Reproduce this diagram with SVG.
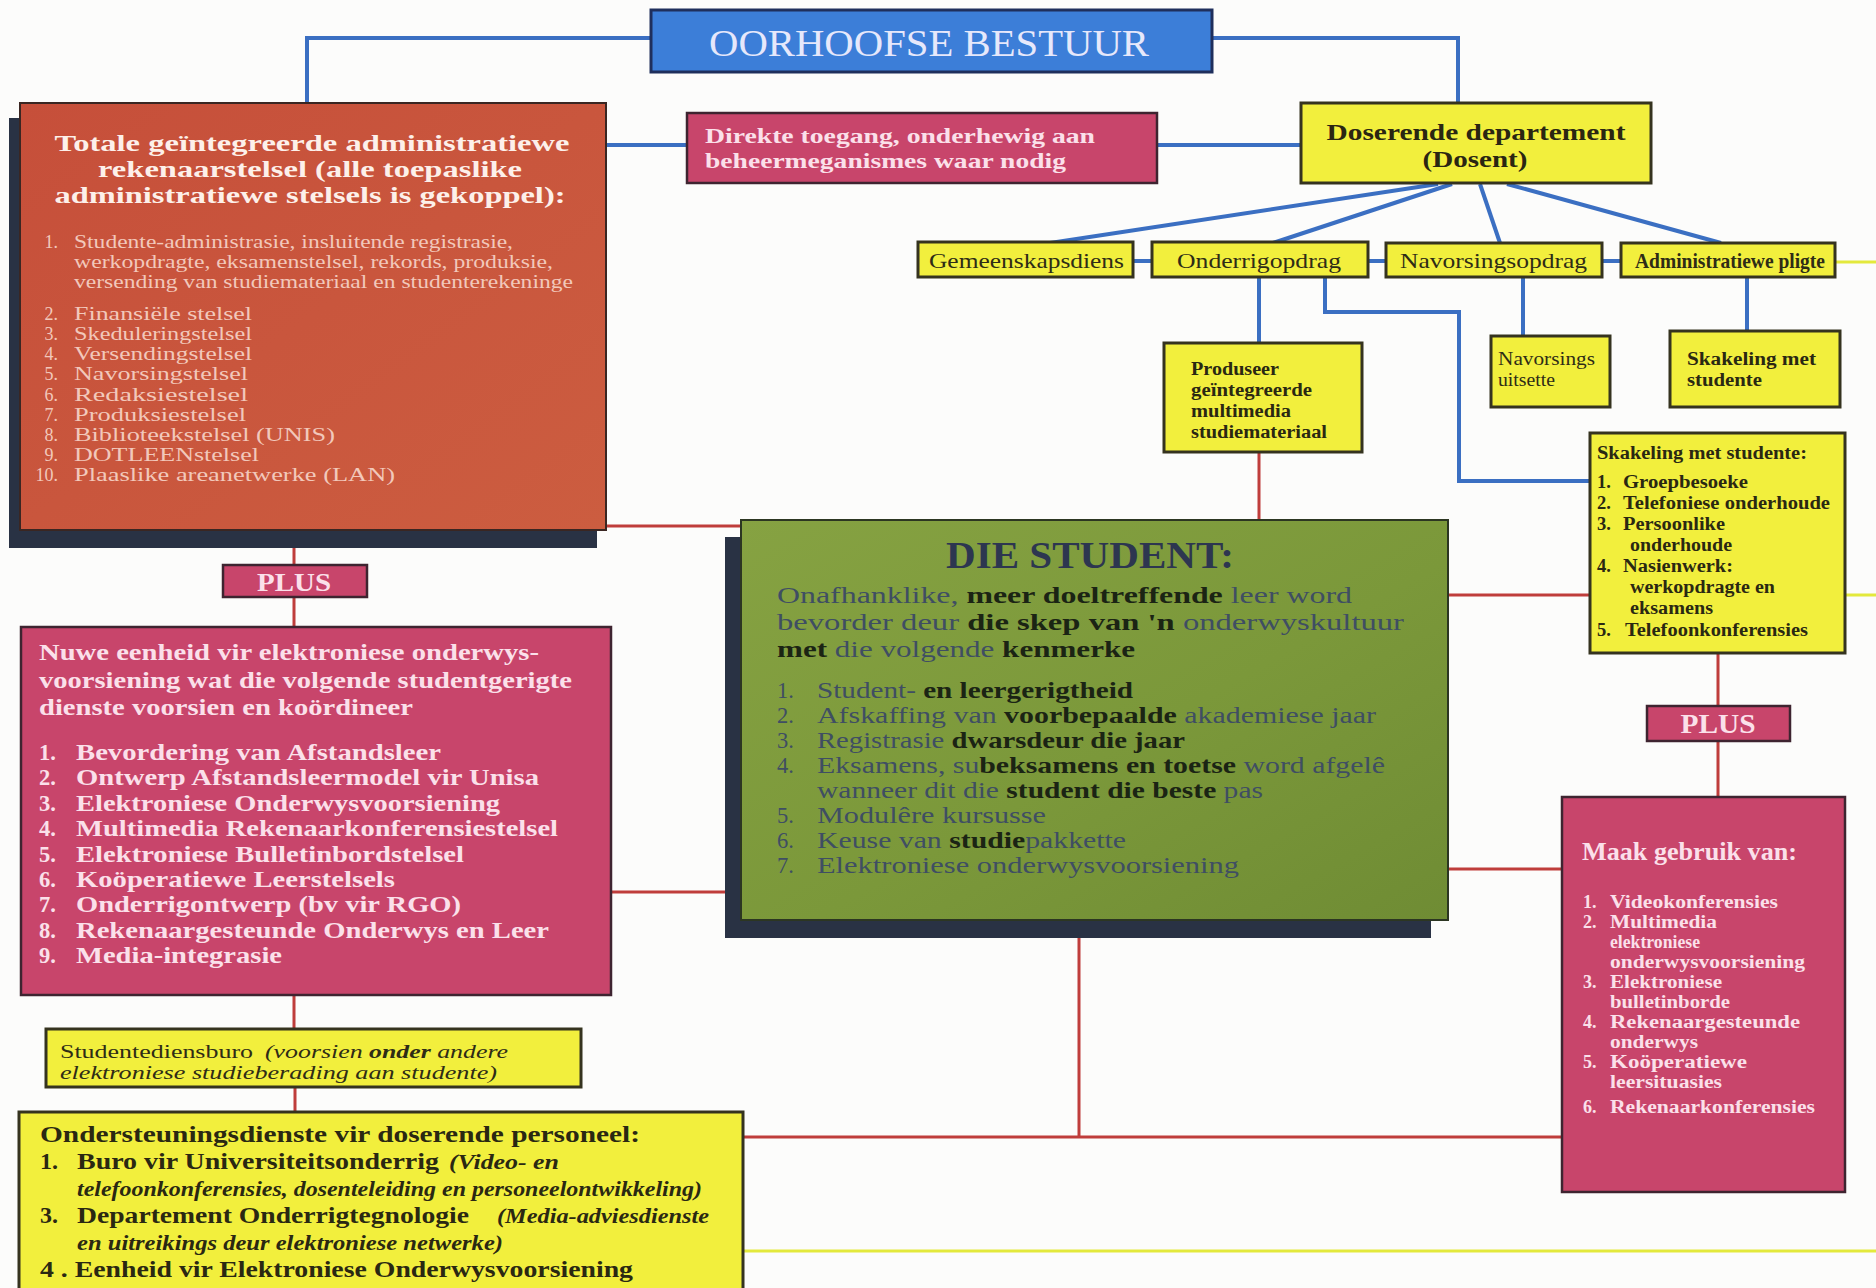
<svg xmlns="http://www.w3.org/2000/svg" width="1876" height="1288" viewBox="0 0 1876 1288">
  <defs>
    <linearGradient id="greenFill" x1="0" y1="0" x2="1" y2="1">
      <stop offset="0" stop-color="#86a242"/>
      <stop offset="0.55" stop-color="#7b983a"/>
      <stop offset="1" stop-color="#6f8c34"/>
    </linearGradient>
    <linearGradient id="rustFill" x1="0" y1="0" x2="1" y2="1">
      <stop offset="0" stop-color="#c64f3a"/>
      <stop offset="1" stop-color="#cc5d40"/>
    </linearGradient>
  </defs>
  <style>
    text { font-family: "Liberation Serif", "Times New Roman", serif; }
    .blue { stroke: #3b6fc2; stroke-width: 4; fill: none; }
    .red { stroke: #bf3d3b; stroke-width: 3; fill: none; }
    .yel { stroke: #e3e93c; stroke-width: 3; fill: none; }
    .ybox { fill: #f2ef3d; stroke: #35331f; stroke-width: 3; }
    .pbox { fill: #c8456b; stroke: #3e2430; stroke-width: 2.5; }
    .shadow { fill: #293244; }
    .ytxt { fill: #2e2c16; font-size: 22px; }
    .ybold { fill: #2a2812; font-size: 18.5px; font-weight: bold; }
    .pink { fill: #fbe0ea; font-weight: bold; }
    .rust-t { fill: #fdf0ea; font-size: 23.5px; font-weight: bold; }
    .rust-i { fill: #f2c8bb; font-size: 18px; }
    .st-l { fill: #3f4e63; }
    .st-d { fill: #1b2414; font-weight: bold; }
    .st-p { font-size: 24px; }
    .st { font-size: 22.5px; }
    .sup { fill: #2a2812; font-size: 24px; font-weight: bold; }
    .supi { fill: #2a2812; font-size: 22px; font-style: italic; font-weight: bold; }
  </style>

  <rect width="1876" height="1288" fill="#fcfcfb"/>

  <!-- connectors -->
  <g id="connectors">
    <!-- management tree (blue) -->
    <path class="blue" d="M307,103 V38 H652"/>
    <path class="blue" d="M1212,38 H1458 V103"/>
    <path class="blue" d="M606,145 H687"/>
    <path class="blue" d="M1157,145 H1301"/>
    <path class="blue" d="M1438,184 L1050,243"/>
    <path class="blue" d="M1452,184 L1273,243"/>
    <path class="blue" d="M1480,184 L1500,243"/>
    <path class="blue" d="M1507,184 L1721,243"/>
    <path class="blue" d="M1133,261 H1152"/>
    <path class="blue" d="M1368,261 H1386"/>
    <path class="blue" d="M1602,261 H1621"/>
    <path class="blue" d="M1259,277 V343"/>
    <path class="blue" d="M1325,277 V312 H1459 V481 H1590"/>
    <path class="blue" d="M1523,277 V336"/>
    <path class="blue" d="M1747,277 V331"/>
    <!-- student links (red) -->
    <path class="red" d="M606,526 H741"/>
    <path class="red" d="M294,548 V565"/>
    <path class="red" d="M294,597 V627"/>
    <path class="red" d="M611,892 H741"/>
    <path class="red" d="M294,995 V1029"/>
    <path class="red" d="M295,1087 V1112"/>
    <path class="red" d="M1259,452 V520"/>
    <path class="red" d="M1448,595 H1590"/>
    <path class="red" d="M1718,653 V706"/>
    <path class="red" d="M1718,741 V797"/>
    <path class="red" d="M1448,869 H1562"/>
    <path class="red" d="M1079,938 V1137"/>
    <path class="red" d="M743,1137 H1562"/>
    <!-- outgoing (yellow) -->
    <path class="yel" d="M1835,262 H1876"/>
    <path class="yel" d="M1845,595 H1876"/>
    <path class="yel" d="M743,1251 H1876"/>
  </g>

  <!-- top management -->
  <g id="oorhoofse-bestuur">
    <rect x="651" y="10" width="561" height="62" fill="#3c7ed8" stroke="#1f2f5c" stroke-width="3"/>
    <text x="929" y="56" text-anchor="middle" font-size="38" fill="#e6e8fb" textLength="440" lengthAdjust="spacingAndGlyphs">OORHOOFSE BESTUUR</text>
  </g>

  <!-- integrated administrative computer system -->
  <g id="admin-stelsel">
    <rect class="shadow" x="9" y="118" width="588" height="430"/>
    <rect x="20" y="103" width="586" height="427" fill="url(#rustFill)" stroke="#3a2622" stroke-width="2"/>
    <text class="rust-t" x="312" y="151" text-anchor="middle" textLength="515" lengthAdjust="spacingAndGlyphs">Totale geïntegreerde administratiewe</text>
    <text class="rust-t" x="310" y="177" text-anchor="middle" textLength="424" lengthAdjust="spacingAndGlyphs">rekenaarstelsel (alle toepaslike</text>
    <text class="rust-t" x="310" y="203" text-anchor="middle" textLength="511" lengthAdjust="spacingAndGlyphs">administratiewe stelsels is gekoppel):</text>
    <g class="rust-i">
      <text x="58" y="248" text-anchor="end">1.</text>
      <text x="74" y="248" textLength="439" lengthAdjust="spacingAndGlyphs">Studente-administrasie, insluitende registrasie,</text>
      <text x="74" y="268" textLength="479" lengthAdjust="spacingAndGlyphs">werkopdragte, eksamenstelsel, rekords, produksie,</text>
      <text x="74" y="288" textLength="499" lengthAdjust="spacingAndGlyphs">versending van studiemateriaal en studenterekeninge</text>
      <text x="58" y="320" text-anchor="end">2.</text>
      <text x="74" y="320" textLength="178" lengthAdjust="spacingAndGlyphs">Finansiële stelsel</text>
      <text x="58" y="340" text-anchor="end">3.</text>
      <text x="74" y="340" textLength="178" lengthAdjust="spacingAndGlyphs">Skeduleringstelsel</text>
      <text x="58" y="360" text-anchor="end">4.</text>
      <text x="74" y="360" textLength="178" lengthAdjust="spacingAndGlyphs">Versendingstelsel</text>
      <text x="58" y="380" text-anchor="end">5.</text>
      <text x="74" y="380" textLength="174" lengthAdjust="spacingAndGlyphs">Navorsingstelsel</text>
      <text x="58" y="401" text-anchor="end">6.</text>
      <text x="74" y="401" textLength="174" lengthAdjust="spacingAndGlyphs">Redaksiestelsel</text>
      <text x="58" y="421" text-anchor="end">7.</text>
      <text x="74" y="421" textLength="172" lengthAdjust="spacingAndGlyphs">Produksiestelsel</text>
      <text x="58" y="441" text-anchor="end">8.</text>
      <text x="74" y="441" textLength="261" lengthAdjust="spacingAndGlyphs">Biblioteekstelsel (UNIS)</text>
      <text x="58" y="461" text-anchor="end">9.</text>
      <text x="74" y="461" textLength="185" lengthAdjust="spacingAndGlyphs">DOTLEENstelsel</text>
      <text x="58" y="481" text-anchor="end">10.</text>
      <text x="74" y="481" textLength="321" lengthAdjust="spacingAndGlyphs">Plaaslike areanetwerke (LAN)</text>
    </g>
  </g>

  <!-- direct access -->
  <g id="direkte-toegang">
    <rect class="pbox" x="687" y="113" width="470" height="70" fill="#c9446c"/>
    <text class="pink" x="705" y="143" font-size="22" textLength="390" lengthAdjust="spacingAndGlyphs">Direkte toegang, onderhewig aan</text>
    <text class="pink" x="705" y="168" font-size="22" textLength="361" lengthAdjust="spacingAndGlyphs">beheermeganismes waar nodig</text>
  </g>

  <!-- lecturing department -->
  <g id="doserende-departement">
    <rect class="ybox" x="1301" y="103" width="350" height="80"/>
    <text x="1476" y="140" text-anchor="middle" font-size="24" font-weight="bold" fill="#2a2612" textLength="299" lengthAdjust="spacingAndGlyphs">Doserende departement</text>
    <text x="1475" y="167" text-anchor="middle" font-size="24" font-weight="bold" fill="#2a2612" textLength="105" lengthAdjust="spacingAndGlyphs">(Dosent)</text>
  </g>

  <g id="gemeenskapsdiens">
    <rect class="ybox" x="918" y="242" width="215" height="35"/>
    <text class="ytxt" x="929" y="268" textLength="195" lengthAdjust="spacingAndGlyphs">Gemeenskapsdiens</text>
  </g>
  <g id="onderrigopdrag">
    <rect class="ybox" x="1152" y="242" width="216" height="35"/>
    <text class="ytxt" x="1177" y="268" textLength="164" lengthAdjust="spacingAndGlyphs">Onderrigopdrag</text>
  </g>
  <g id="navorsingsopdrag">
    <rect class="ybox" x="1386" y="243" width="216" height="34"/>
    <text class="ytxt" x="1400" y="268" textLength="187" lengthAdjust="spacingAndGlyphs">Navorsingsopdrag</text>
  </g>
  <g id="administratiewe-pligte">
    <rect class="ybox" x="1621" y="243" width="214" height="34"/>
    <text class="ytxt" x="1635" y="268" font-weight="bold" font-size="21" textLength="190" lengthAdjust="spacingAndGlyphs">Administratiewe pligte</text>
  </g>

  <g id="produseer">
    <rect class="ybox" x="1164" y="343" width="198" height="109"/>
    <text class="ybold" x="1191" y="375" textLength="88" lengthAdjust="spacingAndGlyphs">Produseer</text>
    <text class="ybold" x="1191" y="396" textLength="121" lengthAdjust="spacingAndGlyphs">geïntegreerde</text>
    <text class="ybold" x="1191" y="417" textLength="100" lengthAdjust="spacingAndGlyphs">multimedia</text>
    <text class="ybold" x="1191" y="438" textLength="136" lengthAdjust="spacingAndGlyphs">studiemateriaal</text>
  </g>

  <g id="navorsings-uitsette">
    <rect class="ybox" x="1491" y="336" width="119" height="71"/>
    <text x="1498" y="365" font-size="18.5" fill="#2e2c16" textLength="97" lengthAdjust="spacingAndGlyphs">Navorsings</text>
    <text x="1498" y="386" font-size="18.5" fill="#2e2c16" textLength="57" lengthAdjust="spacingAndGlyphs">uitsette</text>
  </g>

  <g id="skakeling-met-studente">
    <rect class="ybox" x="1670" y="331" width="170" height="76"/>
    <text class="ybold" x="1687" y="365" font-size="18" textLength="129" lengthAdjust="spacingAndGlyphs">Skakeling met</text>
    <text class="ybold" x="1687" y="386" font-size="18" textLength="75" lengthAdjust="spacingAndGlyphs">studente</text>
  </g>

  <g id="skakeling-lys">
    <rect class="ybox" x="1590" y="433" width="255" height="220"/>
    <text class="ybold" x="1597" y="459" font-weight="normal" font-size="20" textLength="210" lengthAdjust="spacingAndGlyphs">Skakeling met studente:</text>
    <g class="ybold">
      <text x="1597" y="488">1.</text>
      <text x="1623" y="488" textLength="125" lengthAdjust="spacingAndGlyphs">Groepbesoeke</text>
      <text x="1597" y="509">2.</text>
      <text x="1623" y="509" textLength="207" lengthAdjust="spacingAndGlyphs">Telefoniese onderhoude</text>
      <text x="1597" y="530">3.</text>
      <text x="1623" y="530" textLength="102" lengthAdjust="spacingAndGlyphs">Persoonlike</text>
      <text x="1630" y="551" textLength="102" lengthAdjust="spacingAndGlyphs">onderhoude</text>
      <text x="1597" y="572">4.</text>
      <text x="1623" y="572" textLength="110" lengthAdjust="spacingAndGlyphs">Nasienwerk:</text>
      <text x="1630" y="593" textLength="145" lengthAdjust="spacingAndGlyphs">werkopdragte en</text>
      <text x="1630" y="614" textLength="83" lengthAdjust="spacingAndGlyphs">eksamens</text>
      <text x="1597" y="636">5.</text>
      <text x="1625" y="636" textLength="183" lengthAdjust="spacingAndGlyphs">Telefoonkonferensies</text>
    </g>
  </g>

  <g id="plus-regs">
    <rect class="pbox" x="1647" y="706" width="143" height="35" fill="#c43f62"/>
    <text class="pink" x="1718" y="733" text-anchor="middle" font-size="27" textLength="75" lengthAdjust="spacingAndGlyphs">PLUS</text>
  </g>

  <g id="maak-gebruik-van">
    <rect class="pbox" x="1562" y="797" width="283" height="395" fill="#c9486b"/>
    <text class="pink" x="1582" y="860" font-size="25" textLength="215" lengthAdjust="spacingAndGlyphs">Maak gebruik van:</text>
    <g class="pink" font-size="18">
      <text x="1583" y="908">1.</text>
      <text x="1610" y="908" textLength="168" lengthAdjust="spacingAndGlyphs">Videokonferensies</text>
      <text x="1583" y="928">2.</text>
      <text x="1610" y="928" textLength="107" lengthAdjust="spacingAndGlyphs">Multimedia</text>
      <text x="1610" y="948" textLength="90" lengthAdjust="spacingAndGlyphs">elektroniese</text>
      <text x="1610" y="968" textLength="195" lengthAdjust="spacingAndGlyphs">onderwysvoorsiening</text>
      <text x="1583" y="988">3.</text>
      <text x="1610" y="988" textLength="112" lengthAdjust="spacingAndGlyphs">Elektroniese</text>
      <text x="1610" y="1008" textLength="120" lengthAdjust="spacingAndGlyphs">bulletinborde</text>
      <text x="1583" y="1028">4.</text>
      <text x="1610" y="1028" textLength="190" lengthAdjust="spacingAndGlyphs">Rekenaargesteunde</text>
      <text x="1610" y="1048" textLength="88" lengthAdjust="spacingAndGlyphs">onderwys</text>
      <text x="1583" y="1068">5.</text>
      <text x="1610" y="1068" textLength="137" lengthAdjust="spacingAndGlyphs">Koöperatiewe</text>
      <text x="1610" y="1088" textLength="112" lengthAdjust="spacingAndGlyphs">leersituasies</text>
      <text x="1583" y="1113">6.</text>
      <text x="1610" y="1113" textLength="205" lengthAdjust="spacingAndGlyphs">Rekenaarkonferensies</text>
    </g>
  </g>

  <!-- the student -->
  <g id="die-student">
    <rect class="shadow" x="725" y="537" width="706" height="401"/>
    <rect x="741" y="520" width="707" height="400" fill="url(#greenFill)" stroke="#2c3622" stroke-width="2"/>
    <text x="1090" y="568" text-anchor="middle" font-size="38" font-weight="bold" fill="#2d3650" textLength="288" lengthAdjust="spacingAndGlyphs">DIE STUDENT:</text>
    <g class="st-p">
      <text x="777" y="603" textLength="575" lengthAdjust="spacingAndGlyphs"><tspan class="st-l">Onafhanklike, </tspan><tspan class="st-d">meer doeltreffende</tspan><tspan class="st-l"> leer word</tspan></text>
      <text x="777" y="630" textLength="627" lengthAdjust="spacingAndGlyphs"><tspan class="st-l">bevorder deur </tspan><tspan class="st-d">die skep van 'n</tspan><tspan class="st-l"> onderwyskultuur</tspan></text>
      <text x="777" y="657" textLength="358" lengthAdjust="spacingAndGlyphs"><tspan class="st-d">met</tspan><tspan class="st-l"> die volgende </tspan><tspan class="st-d">kenmerke</tspan></text>
    </g>
    <g class="st">
      <text class="st-l" x="777" y="698">1.</text>
      <text x="817" y="698" textLength="316" lengthAdjust="spacingAndGlyphs"><tspan class="st-l">Student-</tspan><tspan class="st-d"> en leergerigtheid</tspan></text>
      <text class="st-l" x="777" y="723">2.</text>
      <text x="817" y="723" textLength="559" lengthAdjust="spacingAndGlyphs"><tspan class="st-l">Afskaffing van </tspan><tspan class="st-d">voorbepaalde</tspan><tspan class="st-l"> akademiese jaar</tspan></text>
      <text class="st-l" x="777" y="748">3.</text>
      <text x="817" y="748" textLength="368" lengthAdjust="spacingAndGlyphs"><tspan class="st-l">Registrasie </tspan><tspan class="st-d">dwarsdeur die jaar</tspan></text>
      <text class="st-l" x="777" y="773">4.</text>
      <text x="817" y="773" textLength="568" lengthAdjust="spacingAndGlyphs"><tspan class="st-l">Eksamens, su</tspan><tspan class="st-d">beksamens en toetse</tspan><tspan class="st-l"> word afgelê</tspan></text>
      <text x="817" y="798" textLength="446" lengthAdjust="spacingAndGlyphs"><tspan class="st-l">wanneer dit die </tspan><tspan class="st-d">student die beste</tspan><tspan class="st-l"> pas</tspan></text>
      <text class="st-l" x="777" y="823">5.</text>
      <text class="st-l" x="817" y="823" textLength="229" lengthAdjust="spacingAndGlyphs">Modulêre kursusse</text>
      <text class="st-l" x="777" y="848">6.</text>
      <text x="817" y="848" textLength="309" lengthAdjust="spacingAndGlyphs"><tspan class="st-l">Keuse van </tspan><tspan class="st-d">studie</tspan><tspan class="st-l">pakkette</tspan></text>
      <text class="st-l" x="777" y="873">7.</text>
      <text class="st-l" x="817" y="873" textLength="422" lengthAdjust="spacingAndGlyphs">Elektroniese onderwysvoorsiening</text>
    </g>
  </g>

  <g id="plus-links">
    <rect class="pbox" x="223" y="565" width="144" height="32" fill="#c43f62"/>
    <text class="pink" x="294" y="591" text-anchor="middle" font-size="26" textLength="74" lengthAdjust="spacingAndGlyphs">PLUS</text>
  </g>

  <g id="nuwe-eenheid">
    <rect class="pbox" x="21" y="627" width="590" height="368" fill="#c9466b"/>
    <g class="pink" font-size="22.5">
      <text x="39" y="660" textLength="500" lengthAdjust="spacingAndGlyphs">Nuwe eenheid vir elektroniese onderwys-</text>
      <text x="39" y="688" textLength="533" lengthAdjust="spacingAndGlyphs">voorsiening wat die volgende studentgerigte</text>
      <text x="39" y="715" textLength="374" lengthAdjust="spacingAndGlyphs">dienste voorsien en koördineer</text>
      <text x="39" y="760">1.</text>
      <text x="76" y="760" textLength="365" lengthAdjust="spacingAndGlyphs">Bevordering van Afstandsleer</text>
      <text x="39" y="785">2.</text>
      <text x="76" y="785" textLength="463" lengthAdjust="spacingAndGlyphs">Ontwerp Afstandsleermodel vir Unisa</text>
      <text x="39" y="811">3.</text>
      <text x="76" y="811" textLength="424" lengthAdjust="spacingAndGlyphs">Elektroniese Onderwysvoorsiening</text>
      <text x="39" y="836">4.</text>
      <text x="76" y="836" textLength="482" lengthAdjust="spacingAndGlyphs">Multimedia Rekenaarkonferensiestelsel</text>
      <text x="39" y="862">5.</text>
      <text x="76" y="862" textLength="388" lengthAdjust="spacingAndGlyphs">Elektroniese Bulletinbordstelsel</text>
      <text x="39" y="887">6.</text>
      <text x="76" y="887" textLength="319" lengthAdjust="spacingAndGlyphs">Koöperatiewe Leerstelsels</text>
      <text x="39" y="912">7.</text>
      <text x="76" y="912" textLength="385" lengthAdjust="spacingAndGlyphs">Onderrigontwerp (bv vir RGO)</text>
      <text x="39" y="938">8.</text>
      <text x="76" y="938" textLength="473" lengthAdjust="spacingAndGlyphs">Rekenaargesteunde Onderwys en Leer</text>
      <text x="39" y="963">9.</text>
      <text x="76" y="963" textLength="206" lengthAdjust="spacingAndGlyphs">Media-integrasie</text>
    </g>
  </g>

  <g id="studentediensburo">
    <rect class="ybox" x="46" y="1029" width="535" height="58"/>
    <text x="60" y="1058" font-size="19" fill="#2e2c16" textLength="193" lengthAdjust="spacingAndGlyphs">Studentediensburo</text>
    <text x="265" y="1058" font-size="19" font-style="italic" fill="#2e2c16" textLength="243" lengthAdjust="spacingAndGlyphs">(voorsien <tspan font-weight="bold">onder</tspan> andere</text>
    <text x="60" y="1079" font-size="19" font-style="italic" fill="#2e2c16" textLength="437" lengthAdjust="spacingAndGlyphs">elektroniese studieberading aan studente)</text>
  </g>

  <g id="ondersteuningsdienste">
    <rect class="ybox" x="19" y="1112" width="724" height="190"/>
    <text class="sup" x="40" y="1142" textLength="600" lengthAdjust="spacingAndGlyphs">Ondersteuningsdienste vir doserende personeel:</text>
    <text class="sup" x="40" y="1169">1.</text>
    <text class="sup" x="77" y="1169" textLength="362" lengthAdjust="spacingAndGlyphs">Buro vir Universiteitsonderrig</text>
    <text class="supi" x="449" y="1169" font-weight="normal" textLength="110" lengthAdjust="spacingAndGlyphs">(Video- en</text>
    <text class="supi" x="77" y="1196" font-weight="normal" textLength="625" lengthAdjust="spacingAndGlyphs">telefoonkonferensies, dosenteleiding en personeelontwikkeling)</text>
    <text class="sup" x="40" y="1223">3.</text>
    <text class="sup" x="77" y="1223" textLength="392" lengthAdjust="spacingAndGlyphs">Departement Onderrigtegnologie</text>
    <text class="supi" x="497" y="1223" textLength="212" lengthAdjust="spacingAndGlyphs">(Media-adviesdienste</text>
    <text class="supi" x="77" y="1250" textLength="426" lengthAdjust="spacingAndGlyphs">en uitreikings deur elektroniese netwerke)</text>
    <text class="sup" x="40" y="1277" textLength="593" lengthAdjust="spacingAndGlyphs">4 . Eenheid vir Elektroniese Onderwysvoorsiening</text>
  </g>
</svg>
